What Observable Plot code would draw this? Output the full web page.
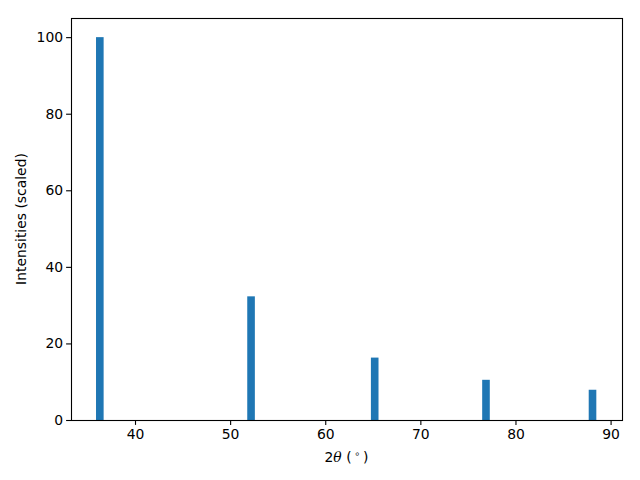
<!DOCTYPE html>
<html>
<head>
<meta charset="utf-8">
<script src="https://cdn.jsdelivr.net/npm/d3@7"></script>
<script src="https://cdn.jsdelivr.net/npm/@observablehq/plot@0.6"></script>
<style>
  html, body { margin: 0; padding: 0; background: white; }
  #chart svg { display: block; }
</style>
</head>
<body>
<div id="chart"></div>
<script>
const twoTheta = [36.3, 52.2, 65.2, 76.9, 88.1];
const intensity = [100, 32.3, 16.3, 10.5, 7.9];
const xTicks = [40, 50, 60, 70, 80, 90];
const yTicks = [0, 20, 40, 60, 80, 100];

const data = twoTheta.map((x, i) => ({x, y: intensity[i]}));
const barWidth = 0.8;

const W = 640, H = 480;
const mL = 71, mR = 18, mT = 18, mB = 60;
const fs = 13.9;

const plot = Plot.plot({
  width: W,
  height: H,
  marginLeft: mL,
  marginRight: mR,
  marginTop: mT,
  marginBottom: mB,
  style: {fontFamily: "DejaVu Sans", fontSize: fs + "px", color: "black", background: "white"},
  x: {domain: [33.27, 91.2]},
  y: {domain: [0, 105]},
  marks: [
    Plot.rectY(data, {x1: d => d.x - barWidth / 2, x2: d => d.x + barWidth / 2, y1: 0, y2: "y", fill: "#1f77b4", insetLeft: 0, insetRight: 0}),
    Plot.frame({stroke: "black", strokeWidth: 1.1}),
    Plot.axisX({ticks: xTicks, tickSize: 4.9, tickPadding: 3.5, label: null, strokeWidth: 1.1, fontSize: fs}),
    Plot.axisY({ticks: yTicks, tickSize: 4.9, tickPadding: 3.5, label: null, strokeWidth: 1.1, fontSize: fs})
  ]
});

const svg = d3.select(plot);
const cx = (mL + (W - mR)) / 2;
const xl = svg.append("text")
  .attr("x", cx).attr("y", 462)
  .attr("text-anchor", "middle")
  .attr("font-family", "DejaVu Sans").attr("font-size", fs).attr("fill", "black");
xl.append("tspan").text("2");
xl.append("tspan").attr("font-style", "italic").attr("font-family", "DejaVu Serif").text("θ");
xl.append("tspan").text(" (\u2009");
xl.append("tspan").attr("font-size", 9.5).attr("dy", -5).text("∘");
xl.append("tspan").attr("dy", 5).text("\u2009)");

svg.append("text")
  .attr("transform", `translate(22,${(mT + (H - mB)) / 2}) rotate(-90)`)
  .attr("text-anchor", "middle")
  .attr("dominant-baseline", "middle")
  .attr("font-family", "DejaVu Sans").attr("font-size", fs).attr("fill", "black")
  .text("Intensities (scaled)");

document.getElementById("chart").appendChild(plot);
</script>
</body>
</html>
